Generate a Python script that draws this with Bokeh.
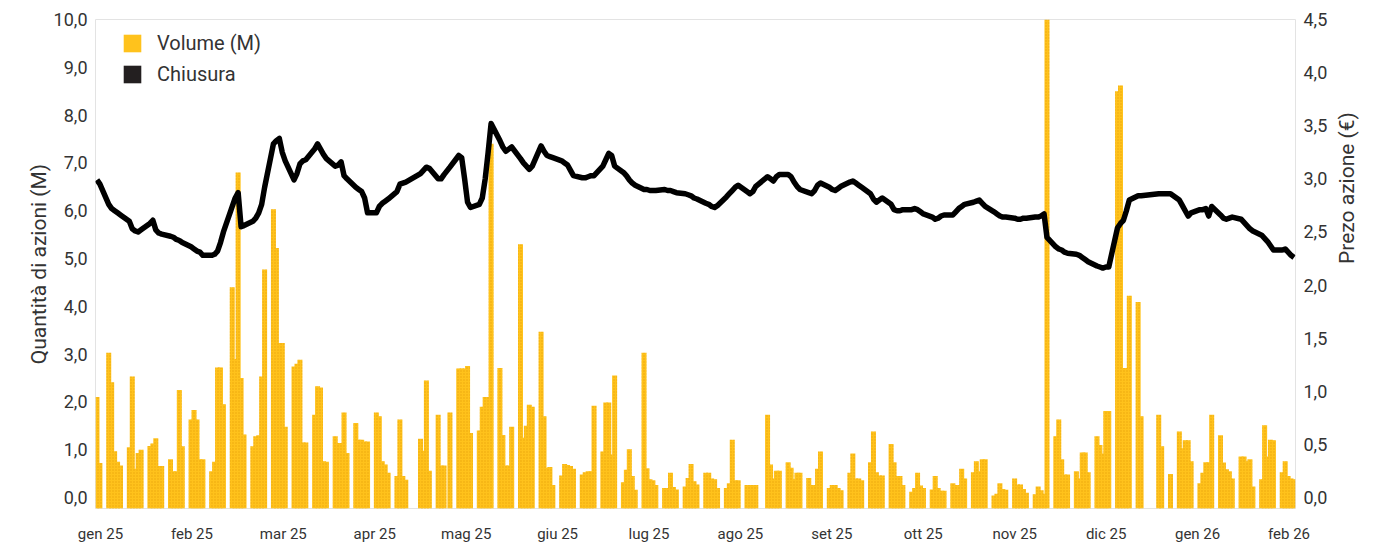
import math
import numpy as np
import pandas as pd
from bokeh.plotting import figure
from bokeh.models import (Range1d, LinearAxis, FixedTicker, CustomJSTickFormatter,
                          Legend, LegendItem, ColumnDataSource)
from bokeh.embed import file_html
from bokeh.resources import INLINE

# ---------------- data ----------------
holidays = ["2025-04-18", "2025-04-21", "2025-05-01", "2025-08-15",
            "2025-12-24", "2025-12-25", "2025-12-26", "2025-12-31", "2026-01-01"]
dates = pd.bdate_range("2025-01-02", "2026-02-13")
dates = dates[~dates.isin(pd.to_datetime(holidays))]

volume = [
    2.1, 0.72,
    3.03, 2.41, 0.97, 0.75, 0.67,
    1.05, 2.53, 0.6, 0.93, 1.0,
    1.08, 1.13, 1.24, 0.66, 0.66,
    0.8, 0.55, 0.55, 2.25, 1.07,
    1.63, 1.83, 1.63, 0.8, 0.8,
    0.55, 0.75, 2.72, 2.72, 1.95,
    4.4, 2.9, 6.8, 2.5, 1.32,
    1.07, 1.28, 1.3, 2.53, 4.77,
    6.03, 5.22, 3.23, 3.23, 1.48,
    2.74, 2.8, 2.88, 1.15, 1.15,
    1.73, 2.33, 2.3, 0.76, 0.75,
    1.28, 1.14, 1.14, 1.78, 0.93,
    1.56, 1.21, 1.21, 1.17, 1.17,
    1.78, 1.7, 0.76, 0.69, 0.52,
    0.45, 1.63, 0.45, 0.37,
    1.23, 0.98, 2.45, 0.56,
    1.73, 0.67, 0.67, 1.78,
    2.7, 2.7, 2.7, 2.75, 1.35,
    1.4, 1.9, 2.1, 2.1, 7.4,
    2.71, 1.31, 0.67, 0.67, 1.48,
    5.3, 1.25, 1.5, 1.94, 1.9,
    3.47, 1.7, 0.62, 0.64, 0.26,
    0.46, 0.7, 0.68, 0.66, 0.6,
    0.48, 0.53, 0.55, 0.55, 1.92,
    0.96, 1.99, 1.99, 0.9, 2.55,
    0.32, 0.58, 1.01, 0.45, 0.16,
    3.03, 0.61, 0.38, 0.36, 0.26,
    0.2, 0.2, 0.52, 0.22, 0.17,
    0.23, 0.41, 0.7, 0.34, 0.27,
    0.52, 0.52, 0.4, 0.38, 0.2,
    0.2, 0.3, 1.21, 0.36, 0.36,
    0.26, 0.26, 0.26, 0.26,
    1.73, 0.69, 0.4, 0.56, 0.56,
    0.74, 0.62, 0.38, 0.52, 0.52,
    0.41, 0.26, 0.26, 0.6, 0.96,
    0.2, 0.26, 0.26, 0.2, 0.15,
    0.52, 0.92, 0.4, 0.4, 0.36,
    0.74, 1.38, 0.53, 0.46, 0.46,
    1.12, 0.74, 0.45, 0.45, 0.26,
    0.12, 0.2, 0.52, 0.25, 0.2,
    0.17, 0.45, 0.2, 0.14, 0.14,
    0.3, 0.26, 0.26, 0.6, 0.4,
    0.53, 0.76, 0.55, 0.8, 0.8,
    0.04, 0.08, 0.3, 0.18, 0.16,
    0.4, 0.27, 0.27, 0.18, 0.1,
    0.07, 0.23, 0.15, 0.08, 10.4,
    1.28, 1.63, 0.8, 0.48, 0.48,
    0.55, 0.4, 0.94, 0.94, 0.53,
    1.28, 1.1, 0.92, 1.81, 1.81,
    8.5, 8.62, 2.71, 2.71, 4.22,
    4.09, 1.7,
    1.73, 1.07, 0.49,
    1.38, 1.03, 1.2, 1.2, 0.76,
    0.3, 0.52, 0.74, 0.74, 1.73,
    1.3, 0.73, 0.59, 0.55, 0.4,
    0.86, 0.86, 0.76, 0.8, 0.23,
    0.38, 1.51, 0.86, 1.21, 1.2,
    0.53, 0.76, 0.45, 0.4, 0.38,
]

close = [
    2.99, 2.95,
    2.76, 2.72, 2.70, 2.68, 2.66,
    2.60, 2.53, 2.51, 2.50, 2.52,
    2.58, 2.61, 2.52, 2.49, 2.48,
    2.46, 2.45, 2.43, 2.42, 2.40,
    2.36, 2.34, 2.32, 2.31, 2.28,
    2.28, 2.29, 2.32, 2.40, 2.50,
    2.74, 2.82, 2.87, 2.55, 2.56,
    2.60, 2.63, 2.68, 2.76, 2.92,
    3.33, 3.36, 3.38, 3.25, 3.17,
    2.99, 3.05, 3.14, 3.17, 3.18,
    3.28, 3.33, 3.28, 3.23, 3.19,
    3.12, 3.13, 3.16, 3.03, 3.00,
    2.92, 2.90, 2.88, 2.82, 2.68,
    2.68, 2.74, 2.77, 2.79, 2.81,
    2.88, 2.95, 2.96, 2.97,
    3.05, 3.08, 3.11, 3.10,
    3.00, 3.00, 3.04, 3.11,
    3.22, 3.20, 3.00, 2.78, 2.73,
    2.76, 2.82, 3.00, 3.25, 3.52,
    3.36, 3.30, 3.26, 3.28, 3.30,
    3.19, 3.15, 3.12, 3.09, 3.12,
    3.31, 3.26, 3.22, 3.21, 3.20,
    3.17, 3.15, 3.13, 3.08, 3.03,
    3.01, 3.01, 3.02, 3.03, 3.03,
    3.12, 3.18, 3.24, 3.22, 3.12,
    3.06, 3.03, 2.99, 2.96, 2.94,
    2.90, 2.90, 2.89, 2.89, 2.89,
    2.90, 2.89, 2.89, 2.88, 2.87,
    2.86, 2.85, 2.84, 2.82, 2.81,
    2.77, 2.76, 2.74, 2.73, 2.75,
    2.83, 2.86, 2.89, 2.92, 2.94,
    2.88, 2.86, 2.88, 2.93,
    3.02, 3.00, 2.98, 3.02, 3.04,
    3.04, 3.02, 2.97, 2.93, 2.90,
    2.87, 2.86, 2.89, 2.94, 2.96,
    2.92, 2.90, 2.89, 2.91, 2.93,
    2.97, 2.98, 2.96, 2.94, 2.92,
    2.86, 2.81, 2.78, 2.80, 2.82,
    2.76, 2.71, 2.70, 2.70, 2.71,
    2.71, 2.72, 2.71, 2.69, 2.67,
    2.64, 2.62, 2.63, 2.65, 2.66,
    2.66, 2.69, 2.72, 2.74, 2.76,
    2.78, 2.79, 2.80, 2.77, 2.74,
    2.69, 2.67, 2.65, 2.64, 2.64,
    2.63, 2.62, 2.62, 2.63, 2.63,
    2.64, 2.64, 2.65, 2.67, 2.45,
    2.36, 2.34, 2.33, 2.31, 2.30,
    2.29, 2.28, 2.26, 2.24, 2.22,
    2.18, 2.17, 2.16, 2.17, 2.17,
    2.54, 2.58, 2.61, 2.70, 2.80,
    2.84, 2.84,
    2.86, 2.86, 2.86,
    2.80, 2.75, 2.70, 2.65, 2.68,
    2.71, 2.71, 2.72, 2.65, 2.74,
    2.66, 2.63, 2.62, 2.63, 2.64,
    2.62, 2.59, 2.56, 2.53, 2.51,
    2.47, 2.44, 2.41, 2.37, 2.33,
    2.33, 2.34, 2.31, 2.28, 2.26,
]

month_labels = ["gen 25", "feb 25", "mar 25", "apr 25", "mag 25", "giu 25", "lug 25",
                "ago 25", "set 25", "ott 25", "nov 25", "dic 25", "gen 26", "feb 26"]
left_ticks = [0, 1, 2, 3, 4, 5, 6, 7, 8, 9, 10]
right_ticks = [0, 0.5, 1.0, 1.5, 2.0, 2.5, 3.0, 3.5, 4.0, 4.5]
legend_labels = ["Volume (M)", "Chiusura"]

assert len(volume) == len(dates) == len(close), (len(volume), len(dates), len(close))

# ---------------- styling ----------------
BAR = "#FFC21C"
DARK = "#231f20"
TXT = "#333333"
FONT = "Roboto"
DAY_MS = 86400000

y_bottom = -0.23
src = ColumnDataSource(dict(x=dates, vol=volume, close=close,
                            bottom=[y_bottom] * len(dates)))

x_start = (dates[0] - pd.Timedelta(hours=12)).to_pydatetime()
x_end = (dates[-1] + pd.Timedelta(hours=12)).to_pydatetime()

p = figure(width=1374, height=545, x_axis_type="datetime",
           x_range=Range1d(x_start, x_end), y_range=Range1d(y_bottom, 10),
           output_backend="svg", toolbar_location=None,
           min_border_left=95, min_border_right=77, min_border_top=19, min_border_bottom=36)
p.extra_y_ranges = {"price": Range1d(-0.103, 4.5)}

p.vbar(x="x", top="vol", bottom="bottom", width=1.7 * DAY_MS, source=src,
       fill_color=BAR, line_color=None,
       hatch_pattern="dot", hatch_scale=3, hatch_color="#D89000", hatch_alpha=0.55, hatch_weight=1)
p.line(x="x", y="close", source=src, y_range_name="price",
       line_color="black", line_width=5.5, line_join="round")

# legend swatches (no visible data, only used for the legend)
nan = float("nan")
leg_vol = p.quad(left=[nan], right=[nan], top=[nan], bottom=[nan],
                 fill_color=BAR, line_color=None)
leg_close = p.quad(left=[nan], right=[nan], top=[nan], bottom=[nan],
                   fill_color=DARK, line_color=None)
legend = Legend(items=[LegendItem(label=legend_labels[0], renderers=[leg_vol]),
                       LegendItem(label=legend_labels[1], renderers=[leg_close])],
                location=(26, 422), padding=0, margin=0, spacing=7,
                glyph_width=22, glyph_height=22, label_standoff=14, label_height=22,
                label_text_font=FONT, label_text_font_size="20px", label_text_color=TXT,
                border_line_color=None, background_fill_alpha=0)
p.add_layout(legend)

# x axis
t0 = pd.Timestamp("2025-01-03 04:30").value // 10**6
t1 = pd.Timestamp("2026-02-11 07:00").value // 10**6
xt = [float(v) for v in np.linspace(t0, t1, len(month_labels))]
p.xaxis.ticker = FixedTicker(ticks=xt)
p.xaxis.formatter = CustomJSTickFormatter(args=dict(labels=month_labels),
                                          code="return labels[index];")

# left axis
p.yaxis.ticker = FixedTicker(ticks=left_ticks)
p.yaxis.formatter = CustomJSTickFormatter(code="return tick.toFixed(1).replace('.', ',');")
p.yaxis.axis_label = "Quantità di azioni (M)"

# right axis
ax_r = LinearAxis(y_range_name="price", axis_label="Prezo azione (€)",
                  ticker=FixedTicker(ticks=right_ticks),
                  formatter=CustomJSTickFormatter(code="return tick.toFixed(1).replace('.', ',');"))
p.add_layout(ax_r, "right")

for ax in p.axis:
    ax.axis_line_color = None
    ax.major_tick_line_color = None
    ax.minor_tick_line_color = None
    ax.major_tick_out = 0
    ax.major_tick_in = 0
    ax.minor_tick_out = 0
    ax.major_label_text_font = FONT
    ax.major_label_text_color = TXT
    ax.axis_label_text_font = FONT
    ax.axis_label_text_color = TXT
    ax.axis_label_text_font_style = "normal"
    ax.axis_label_text_font_size = "21px"

p.xaxis.major_label_text_font_size = "15px"
p.xaxis.major_label_standoff = 16
for ax in (p.yaxis[0], ax_r):
    ax.major_label_text_font_size = "18px"
    ax.major_label_standoff = 8
p.yaxis[0].axis_label_standoff = 0
ax_r.axis_label_standoff = 17
ax_r.axis_label_orientation = math.pi / 2

p.xgrid.grid_line_color = None
p.ygrid.grid_line_color = None
p.outline_line_color = "#e3e3e3"
p.outline_line_width = 1
p.background_fill_color = "white"
p.border_fill_color = "white"

open("out.html", "w").write(file_html(p, INLINE))
